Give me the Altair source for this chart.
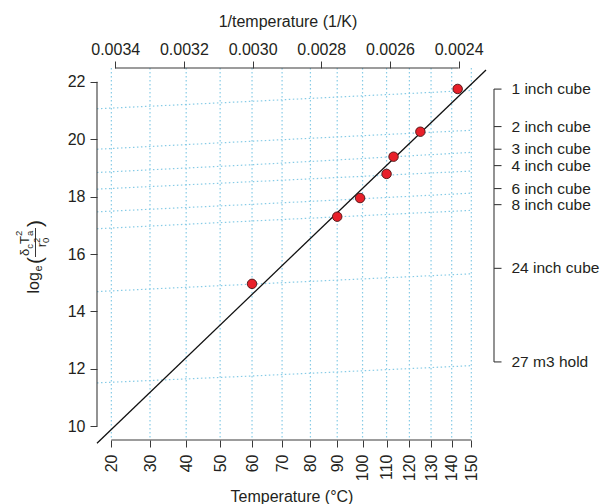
import altair as alt
import pandas as pd

K0 = 273.15

# ---------------- data ----------------
grid_temps = [20, 30, 40, 50, 60, 70, 80, 90, 100, 110, 120, 130, 140, 150]
top_ticks = [0.0024, 0.0026, 0.0028, 0.0030, 0.0032, 0.0034]
y_ticks = [10, 12, 14, 16, 18, 20, 22]

pt_temp = [60, 90, 99, 110, 113, 125, 143]
pt_val = [14.96, 17.30, 17.95, 18.79, 19.39, 20.26, 21.75]

fit_temp = [16.45, 157.8]
fit_val = [9.41, 22.41]

size_names = ["1 inch cube", "2 inch cube", "3 inch cube", "4 inch cube",
              "6 inch cube", "8 inch cube", "24 inch cube", "27 m3 hold"]
size_tick_val = [21.745, 20.44, 19.65, 19.08, 18.28, 17.72, 15.50, 12.24]

curve_temp = [16.45, 60, 150]
curve_left = [21.06, 19.65, 18.84, 18.26, 17.47, 16.88, 14.69, 11.51]
curve_mid = [21.32, 19.93, 19.11, 18.52, 17.73, 17.15, 14.95, 11.75]
curve_right = [21.70, 20.31, 19.54, 18.89, 18.12, 17.52, 15.31, 12.11]

# ---------------- style ----------------
FONT = "Liberation Sans"
TXT = "#231f20"
AX = "#3a3a3a"
GRID = "#86cbe6"
W, H = 389, 372
OX, OY = 97, 68

inv_expr = "1/(datum.T + 273.15)"
xscale = alt.Scale(domain=[0.0023205, 0.003453], reverse=True, nice=False, zero=False)
yscale = alt.Scale(domain=[9.52, 22.48], nice=False, zero=False)

bottom_axis = alt.Axis(
    orient="bottom", values=[1 / (t + K0) for t in grid_temps],
    labelExpr="format(1/datum.value - 273.15, '.0f')",
    domain=False, grid=False, tickSize=7, tickColor=AX, tickWidth=1,
    labelAngle=270, labelAlign="right", labelBaseline="middle", labelPadding=7,
    labelFont=FONT, labelFontSize=16, labelColor=TXT, labelFlush=False,
    labelOverlap=False, title=None)
top_axis = alt.Axis(
    orient="top", values=top_ticks, format=".4f",
    domain=False, grid=False, tickSize=7, tickColor=AX, tickWidth=1,
    labelAngle=0, labelBaseline="alphabetic", labelPadding=7,
    labelFont=FONT, labelFontSize=16, labelColor=TXT, labelFlush=False,
    labelOverlap=False, title=None)
y_axis = alt.Axis(
    orient="left", values=y_ticks, domain=False, grid=False, tickSize=7,
    tickColor=AX, tickWidth=1, labelPadding=5, labelFont=FONT, labelFontSize=16,
    labelColor=TXT, labelFlush=False, labelOverlap=False, title=None)

# ---------------- tables ----------------
grid_df = pd.DataFrame({"T": grid_temps})
pts_df = pd.DataFrame({"T": pt_temp, "v": pt_val})
fit_df = pd.DataFrame({"T": fit_temp, "v": fit_val})
rows = []
for i, n in enumerate(size_names):
    for t, v in zip(curve_temp, [curve_left[i], curve_mid[i], curve_right[i]]):
        rows.append({"name": n, "T": t, "v": v})
curve_df = pd.DataFrame(rows)
size_df = pd.DataFrame({"name": size_names, "v": size_tick_val})
one = pd.DataFrame({"a": [0]})

# ---------------- layers ----------------
vgrid = alt.Chart(grid_df).transform_calculate(inv=inv_expr).mark_rule(
    color=GRID, strokeDash=[1.5, 2.5], strokeWidth=1.2
).encode(x=alt.X("inv:Q", scale=xscale, axis=bottom_axis))

curves = alt.Chart(curve_df).transform_calculate(inv=inv_expr).mark_line(
    color=GRID, strokeDash=[1.5, 2.5], strokeWidth=1.2, clip=True
).encode(
    x=alt.X("inv:Q", scale=xscale, axis=None),
    y=alt.Y("v:Q", scale=yscale, axis=y_axis),
    detail="name:N", order="T:Q")

fit = alt.Chart(fit_df).transform_calculate(inv=inv_expr).mark_line(
    color="#111111", strokeWidth=1.3, clip=False
).encode(x=alt.X("inv:Q", scale=xscale, axis=None),
         y=alt.Y("v:Q", scale=yscale, axis=None), order="T:Q")

points = alt.Chart(pts_df).transform_calculate(inv=inv_expr).mark_point(
    shape="circle", filled=True, fill="#e8202a", stroke="#4a1414",
    strokeWidth=0.9, size=90, opacity=1
).encode(x=alt.X("inv:Q", scale=xscale, axis=None),
         y=alt.Y("v:Q", scale=yscale, axis=None))

# R-style axis lines spanning first..last tick
left_dom = alt.Chart(pd.DataFrame({"y1": [min(y_ticks)], "y2": [max(y_ticks)]})).mark_rule(
    color=AX, strokeWidth=1.1
).encode(x=alt.value(0), y=alt.Y("y1:Q", scale=yscale, axis=None), y2="y2:Q")

bot_dom = alt.Chart(pd.DataFrame({"T": [min(grid_temps)], "T2": [max(grid_temps)]})).transform_calculate(
    i1="1/(datum.T + 273.15)", i2="1/(datum.T2 + 273.15)"
).mark_rule(color=AX, strokeWidth=1.1).encode(
    x=alt.X("i1:Q", scale=xscale, axis=None), x2="i2:Q", y=alt.value(H))

top_dom = alt.Chart(pd.DataFrame({"i1": [min(top_ticks)], "i2": [max(top_ticks)]})).mark_rule(
    color=AX, strokeWidth=1.1
).encode(x=alt.X("i1:Q", scale=xscale, axis=top_axis), x2="i2:Q", y=alt.value(0))

# right-hand size scale
RX = 397
right_dom = alt.Chart(pd.DataFrame({"y1": [min(size_tick_val)], "y2": [max(size_tick_val)]})).mark_rule(
    color=AX, strokeWidth=1.1
).encode(x=alt.value(RX), y=alt.Y("y1:Q", scale=yscale, axis=None), y2="y2:Q")
right_ticks = alt.Chart(size_df).mark_rule(color=AX, strokeWidth=1.1).encode(
    x=alt.value(RX), x2=alt.value(RX + 7.5), y=alt.Y("v:Q", scale=yscale, axis=None))
right_labels = alt.Chart(size_df).mark_text(
    align="left", baseline="middle", font=FONT, fontSize=15.5, color=TXT
).encode(x=alt.value(RX + 17.5), y=alt.Y("v:Q", scale=yscale, axis=None), text="name:N")

# titles
def txt(s, ax, ay, size, angle=0, align="left", baseline="alphabetic"):
    return alt.Chart(one).mark_text(
        text=s, font=FONT, fontSize=size, color=TXT, angle=angle,
        align=align, baseline=baseline
    ).encode(x=alt.value(ax - OX), y=alt.value(ay - OY))

top_title = txt("1/temperature (1/K)", 288, 26.5, 16, align="center")
bot_title = txt("Temperature (°C)", 292, 501.5, 16, align="center")

# y-axis title: log_e( delta_c T_a^2 / r_0^2 ), rotated
ylab = [
    txt("log", 38.5, 293.5, 16, 270),
    txt("e", 42, 271.5, 11, 270),
    txt("(", 42, 264, 21, 270),
    txt("δ", 29, 256, 13, 270),
    txt("c", 32.5, 248.8, 9.5, 270),
    txt("T", 29, 244, 13, 270),
    txt("a", 32.5, 236, 9.5, 270),
    txt("2", 22, 236, 9.5, 270),
    txt("r", 45.5, 247.3, 13, 270),
    txt("0", 48.5, 243, 9.5, 270),
    txt("2", 39.5, 243, 9.5, 270),
    txt(")", 42, 227, 21, 270),
]
bar = alt.Chart(one).mark_rule(color=TXT, strokeWidth=0.9).encode(
    x=alt.value(35.5 - OX), y=alt.value(257 - OY), y2=alt.value(228 - OY))

chart = alt.layer(
    vgrid, curves, fit, points, left_dom, bot_dom, top_dom,
    right_dom, right_ticks, right_labels, top_title, bot_title, bar, *ylab
).resolve_axis(x="independent", y="independent").properties(
    width=W, height=H,
    padding={"left": OX, "top": OY, "right": 602 - OX - W, "bottom": 504 - OY - H},
    autosize=alt.AutoSizeParams(type="none"),
    background="white",
).configure_view(stroke=None)

chart.save("out.html", embed_options={"renderer": "svg", "actions": False})
